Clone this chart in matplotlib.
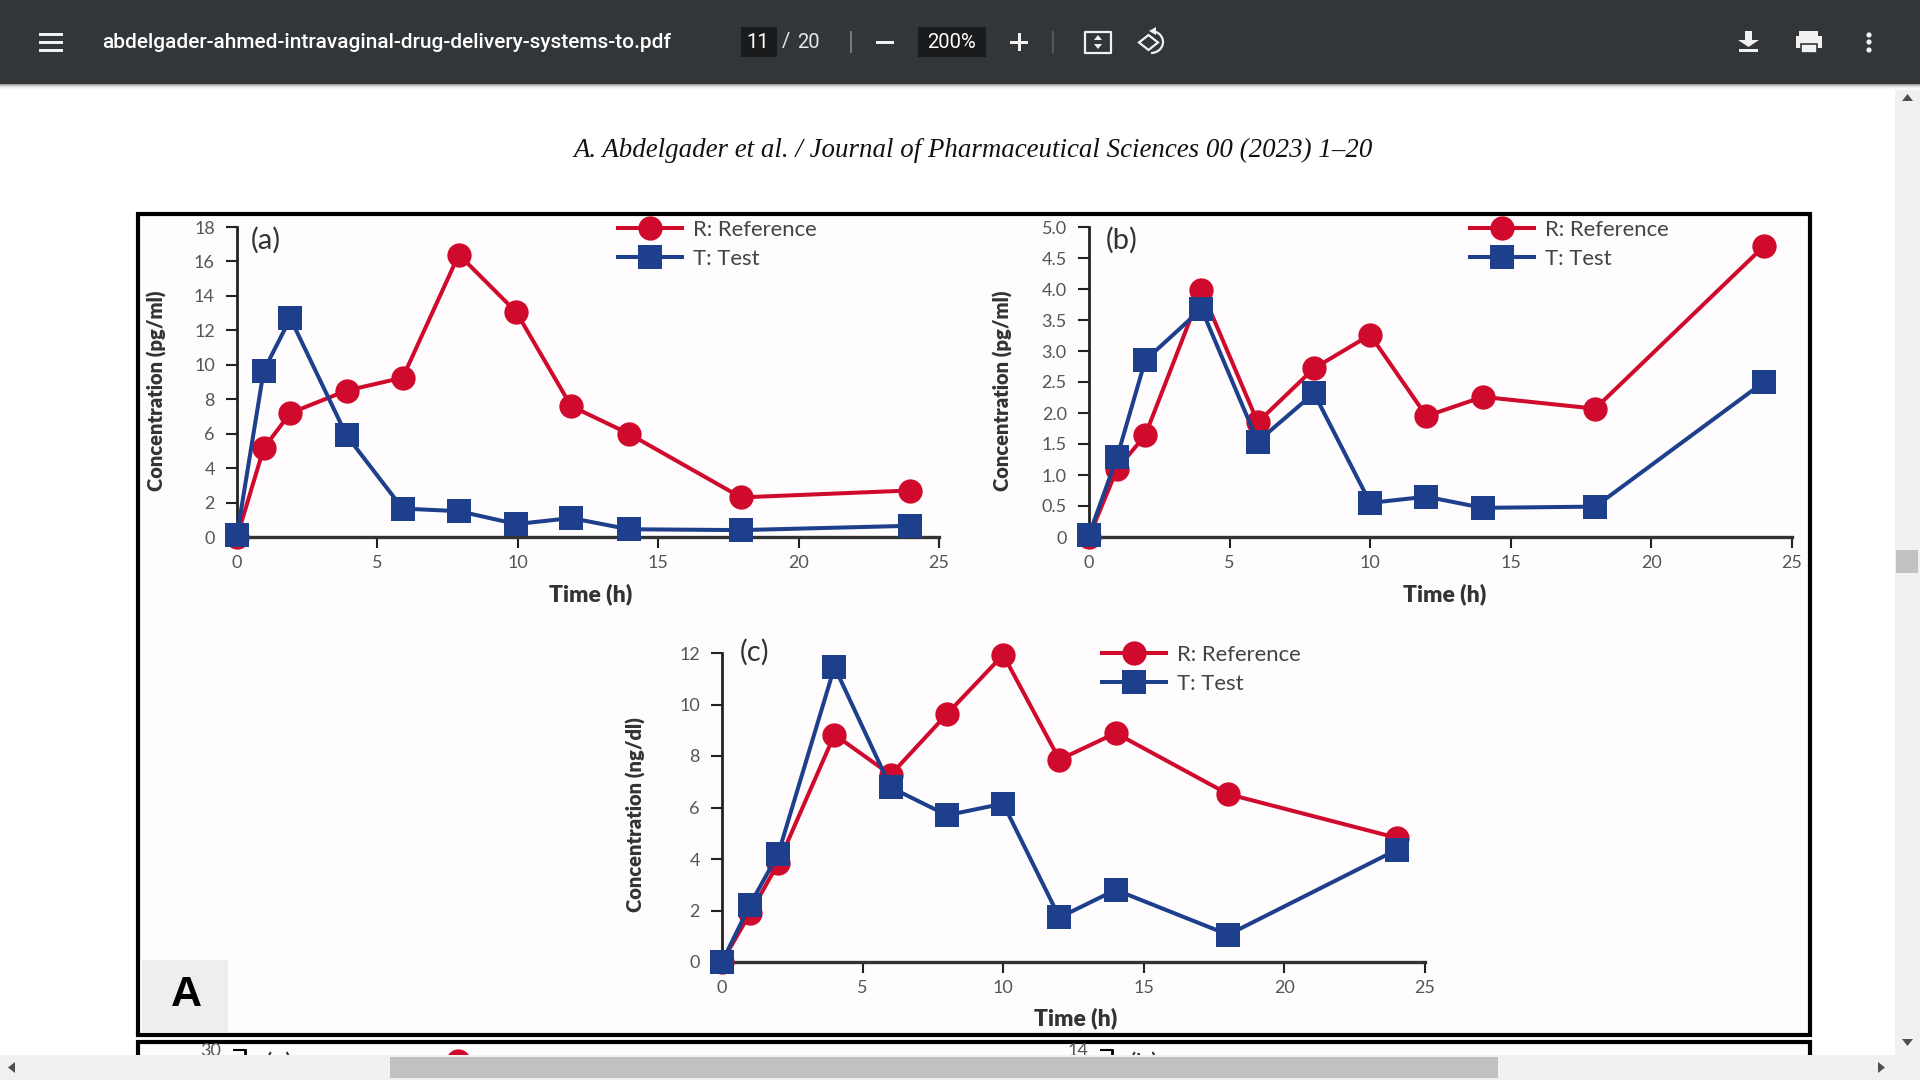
import matplotlib
matplotlib.use("Agg")
import matplotlib.pyplot as plt
from matplotlib.patches import Arc, Circle, Polygon, Rectangle

W, H = 1920, 1080

times = [0, 1, 2, 4, 6, 8, 10, 12, 14, 18, 24]
# the points of panel (a) sit a little left of the nominal hours in the scan
times_a = [0, 0.95, 1.9, 3.9, 5.9, 7.9, 9.95, 11.9, 13.95, 17.95, 23.95]

ref_a = [0, 5.15, 7.2, 8.5, 9.25, 16.4, 13.05, 7.6, 6.0, 2.3, 2.7]
test_a = [0.1, 9.65, 12.7, 5.9, 1.65, 1.5, 0.75, 1.1, 0.45, 0.4, 0.65]

ref_b = [0, 1.1, 1.64, 3.98, 1.85, 2.72, 3.26, 1.95, 2.26, 2.07, 4.69]
test_b = [0.03, 1.29, 2.85, 3.68, 1.54, 2.32, 0.55, 0.65, 0.47, 0.49, 2.5]

ref_c = [0, 1.9, 3.84, 8.83, 7.27, 9.63, 11.93, 7.86, 8.89, 6.52, 4.82]
test_c = [0, 2.23, 4.2, 11.46, 6.78, 5.7, 6.15, 1.73, 2.8, 1.06, 4.36]

xticks = [0, 5, 10, 15, 20, 25]
yticks_a = [0, 2, 4, 6, 8, 10, 12, 14, 16, 18]
yticks_b = [0, 0.5, 1.0, 1.5, 2.0, 2.5, 3.0, 3.5, 4.0, 4.5, 5.0]
ytick_labels_b = ["0", "0.5", "1.0", "1.5", "2.0", "2.5", "3.0", "3.5", "4.0", "4.5", "5.0"]
yticks_c = [0, 2, 4, 6, 8, 10, 12]

# top of the next figure on the page, cut off by the scrollbar
next_times = [8]
next_ref = [28.9]

RED = "#cf0a2c"
BLUE = "#1d3f8c"
INK = "#333333"
FONT = "Lato"

fig = plt.figure(figsize=(W / 100, H / 100), dpi=100, facecolor="white")


def axes_px(x0, x1, y_top, y_bottom, zorder=2):
    return fig.add_axes(
        [x0 / W, 1 - y_bottom / H, (x1 - x0) / W, (y_bottom - y_top) / H],
        facecolor="none",
        zorder=zorder,
    )


def panel(box, ts, ymax, yticks, ref, test, ylabel, letter, letter_px, label_px, legend_px, ylabels=None):
    x0, x1, y_top, y_bottom = box
    ax = axes_px(x0, x1, y_top, y_bottom)
    ax.plot(ts, ref, color=RED, lw=2.9, marker="o", ms=17.5, mew=0, clip_on=False, label="R: Reference", zorder=4)
    ax.plot(ts, test, color=BLUE, lw=2.9, marker="s", ms=17, mew=0, clip_on=False, label="T: Test", zorder=5)
    ax.set_xlim(0, 25)
    ax.set_ylim(0, ymax)
    ax.set_xticks(xticks)
    ax.set_yticks(yticks)
    if ylabels:
        ax.set_yticklabels(ylabels)
    ax.spines["top"].set_visible(False)
    ax.spines["right"].set_visible(False)
    ax.spines["left"].set_linewidth(2)
    ax.spines["bottom"].set_linewidth(2.4)
    ax.spines["left"].set_color("#222222")
    ax.spines["bottom"].set_color("#333333")
    ax.tick_params(axis="x", length=8, width=1.5, color="#222222", pad=5, labelsize=13, labelcolor="#555555")
    ax.tick_params(axis="y", length=8, width=1.5, color="#222222", pad=8, labelsize=13, labelcolor="#555555")
    for lab in ax.get_xticklabels() + ax.get_yticklabels():
        lab.set_fontfamily(FONT)

    bw, bh = x1 - x0, y_bottom - y_top
    ax.set_xlabel("Time (h)", fontfamily=FONT, fontweight="heavy", fontsize=16.5, color=INK)
    ax.xaxis.set_label_coords((label_px[0] - x0) / bw, (y_bottom - label_px[1]) / bh)
    ax.xaxis.label.set_va("center")
    ax.set_ylabel(ylabel, fontfamily=FONT, fontweight="heavy", fontsize=14.5, color=INK)
    ax.yaxis.set_label_coords((label_px[2] - x0) / bw, (y_bottom - label_px[3]) / bh)
    ax.yaxis.label.set_va("center")
    ax.text(
        (letter_px[0] - x0) / bw,
        (y_bottom - letter_px[1]) / bh,
        letter,
        transform=ax.transAxes,
        fontfamily=FONT,
        fontsize=21,
        color=INK,
        ha="center",
        va="center",
    )
    ax.legend(
        loc="upper left",
        bbox_to_anchor=((legend_px[0] - x0) / bw, (y_bottom - legend_px[1]) / bh),
        frameon=False,
        borderpad=0,
        borderaxespad=0,
        handlelength=2.9,
        handletextpad=0.5,
        labelspacing=0.4,
        labelcolor="#444444",
        prop={"family": FONT, "size": 15.9},
    )
    return ax


bg = axes_px(0, W, 0, H, zorder=0)
bg.set_xlim(0, W)
bg.set_ylim(H, 0)
bg.axis("off")
bg.add_patch(Rectangle((138, 214), 1672, 821, fc="#fffcfd", ec="black", lw=3))
bg.add_patch(Rectangle((138, 1042), 1672, 80, fc="#fffcfd", ec="black", lw=3))
bg.add_patch(Rectangle((142, 960), 86, 72, fc="#eeeeee", ec="none"))
bg.text(186, 995, "A", fontfamily="Liberation Sans", fontweight="bold", fontsize=31, ha="center", va="center", color="black")
bg.text(
    973,
    150,
    "A. Abdelgader et al. / Journal of Pharmaceutical Sciences 00 (2023) 1\u201320",
    fontfamily="Liberation Serif",
    style="italic",
    fontsize=19.4,
    ha="center",
    va="center",
    color="#111111",
)
bg.text(279, 1065, "(a)", fontfamily=FONT, fontsize=20, color=INK, ha="center", va="center")
bg.text(1144, 1065, "(b)", fontfamily=FONT, fontsize=20, color=INK, ha="center", va="center")

panel((237, 939, 227, 537), times_a, 18, yticks_a, ref_a, test_a, "Concentration (pg/ml)", "(a)", (266, 240), (591, 594, 157, 391), (618, 220))
panel((1089, 1792, 227, 537), times, 5, yticks_b, ref_b, test_b, "Concentration (pg/ml)", "(b)", (1122, 240), (1445, 594, 1003, 391), (1470, 220), ytick_labels_b)
panel((722, 1425, 653, 962), times, 12, yticks_c, ref_c, test_c, "Concentration (ng/dl)", "(c)", (755, 652), (1076, 1018, 636, 815), (1102, 645))

# next figure peeking in above the scrollbar
for x0, ymax, tick in [(245, 30, "30"), (1112, 14, "14")]:
    nx = axes_px(x0, x0 + 665, 1050, 1356, zorder=1)
    nx.set_xlim(0, 25)
    nx.set_ylim(0, ymax)
    nx.set_xticks([])
    nx.set_yticks([ymax])
    nx.set_yticklabels([tick], fontfamily=FONT, fontsize=13, color="#555555")
    nx.tick_params(axis="y", length=9, width=1.5, pad=8)
    nx.spines["top"].set_visible(False)
    nx.spines["right"].set_visible(False)
    nx.spines["bottom"].set_visible(False)
    nx.spines["left"].set_linewidth(2)
    if ymax == 30:
        nx.plot(next_times, next_ref, color=RED, marker="o", ms=17.5, mew=0, clip_on=False)

# browser pdf viewer chrome on top of the page
ui = axes_px(0, W, 0, H, zorder=10)
ui.set_xlim(0, W)
ui.set_ylim(H, 0)
ui.axis("off")

shadow = ["#9a9a9a", "#c4c4c4", "#dedede", "#eeeeee", "#f7f7f7", "#fcfcfc"]
for i, c in enumerate(shadow):
    ui.add_patch(Rectangle((0, 84 + i), W, 1, fc=c, ec="none"))
ui.add_patch(Rectangle((0, 0), W, 84, fc="#323639", ec="none"))

for y in (33, 41, 49):
    ui.add_patch(Rectangle((39, y), 24, 3, fc="#f1f1f1", ec="none"))
ui.text(102, 42, "abdelgader-ahmed-intravaginal-drug-delivery-systems-to.pdf", fontfamily="Roboto", fontweight="medium", fontsize=15.05, color="white", va="center")

ui.add_patch(Rectangle((741, 27), 36, 30, fc="#191b1c", ec="none"))
ui.text(758, 42, "11", fontfamily="Roboto", fontsize=14.5, color="white", ha="center", va="center")
ui.text(786, 42, "/", fontfamily="Roboto", fontsize=14.5, color="#e8e8e8", ha="center", va="center")
ui.text(808, 42, "20", fontfamily="Roboto", fontsize=14.5, color="#e8e8e8", ha="center", va="center")
ui.add_patch(Rectangle((850, 31), 2, 22, fc="#777a7c", ec="none"))
ui.add_patch(Rectangle((876, 41), 18, 2.5, fc="#f1f1f1", ec="none"))
ui.add_patch(Rectangle((918, 27), 68, 30, fc="#191b1c", ec="none"))
ui.text(952, 42, "200%", fontfamily="Roboto", fontsize=14.5, color="white", ha="center", va="center")
ui.add_patch(Rectangle((1010, 41), 18, 2.5, fc="#f1f1f1", ec="none"))
ui.add_patch(Rectangle((1018, 33), 2.5, 18, fc="#f1f1f1", ec="none"))
ui.add_patch(Rectangle((1052, 31), 1.5, 22, fc="#55585a", ec="none"))

# fit to page icon
ui.add_patch(Rectangle((1085, 32), 26, 21, fc="none", ec="#f1f1f1", lw=1.6, joinstyle="round"))
ui.add_patch(Polygon([(1098, 35), (1094, 40), (1102, 40)], fc="#f1f1f1", ec="none"))
ui.add_patch(Polygon([(1098, 49), (1094, 44), (1102, 44)], fc="#f1f1f1", ec="none"))

# rotate icon
ui.add_patch(Polygon([(1158, 42.5), (1148.5, 35), (1139, 42.5), (1148.5, 50)], fc="none", ec="#f1f1f1", lw=1.6))
ui.add_patch(Arc((1151, 42), 24, 22, theta1=-90, theta2=90, ec="#f1f1f1", lw=1.6))
ui.add_patch(Polygon([(1156, 27), (1156, 35), (1149, 31)], fc="#f1f1f1", ec="none"))

# download icon
ui.add_patch(Rectangle((1745, 31), 7, 10, fc="#f1f1f1", ec="none"))
ui.add_patch(Polygon([(1738, 40), (1759, 40), (1748.5, 47)], fc="#f1f1f1", ec="none"))
ui.add_patch(Rectangle((1739, 49), 19, 3, fc="#f1f1f1", ec="none"))

# print icon
ui.add_patch(Rectangle((1799, 31), 19, 5, fc="#f1f1f1", ec="none"))
ui.add_patch(Rectangle((1796, 36), 26, 12, fc="#f1f1f1", ec="none"))
ui.add_patch(Rectangle((1801, 44), 16, 9, fc="#f1f1f1", ec="#323639", lw=1.2))

for y in (35, 42, 50):
    ui.add_patch(Circle((1869, y), 2.6, fc="#f1f1f1", ec="none"))

# vertical scrollbar
ui.add_patch(Rectangle((1895, 90), 25, 965, fc="#f1f1f1", ec="none"))
ui.add_patch(Rectangle((1896, 550), 22, 23, fc="#c1c1c1", ec="none"))
ui.add_patch(Polygon([(1902, 101), (1913, 101), (1907.5, 94)], fc="#505050", ec="none"))
ui.add_patch(Polygon([(1902, 1039), (1913, 1039), (1907.5, 1046)], fc="#505050", ec="none"))

# horizontal scrollbar
ui.add_patch(Rectangle((0, 1055), W, 25, fc="#f1f1f1", ec="none"))
ui.add_patch(Rectangle((390, 1057), 1108, 21, fc="#c1c1c1", ec="none"))
ui.add_patch(Polygon([(15, 1062), (15, 1073), (8, 1067.5)], fc="#505050", ec="none"))
ui.add_patch(Polygon([(1878, 1062), (1878, 1073), (1885, 1067.5)], fc="#505050", ec="none"))

fig.savefig("out.png", dpi=100)
plt.close(fig)
